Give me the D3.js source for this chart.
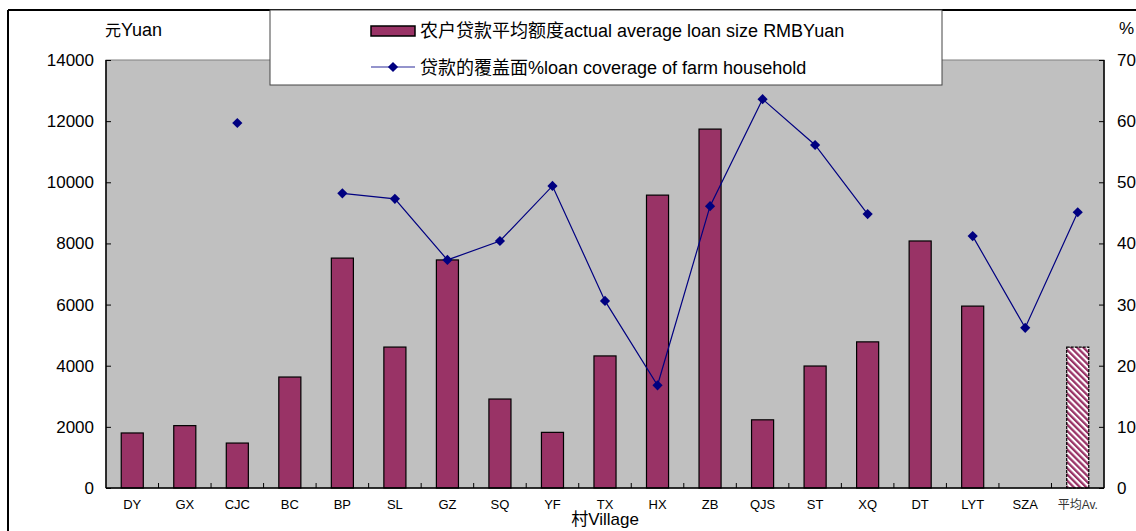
<!DOCTYPE html>
<html><head><meta charset="utf-8">
<script src="https://cdn.jsdelivr.net/npm/d3@7"></script>
<style>body{margin:0;background:#fff;} text{font-family:"Liberation Sans",Arial,"Noto Sans CJK SC",sans-serif;}</style>
</head><body>
<svg id="c" width="1136" height="531"></svg>
<script>
const categories = ["DY","GX","CJC","BC","BP","SL","GZ","SQ","YF","TX","HX","ZB","QJS","ST","XQ","DT","LYT","SZA","平均Av."];
const loanSize = [1800,2040,1470,3630,7520,4610,7460,2910,1820,4320,9580,11740,2230,3990,4780,8080,5950,0,4610];
const coverage = [null,null,59.7,null,48.2,47.3,37.3,40.4,49.4,30.6,16.8,46.1,63.6,56.1,44.8,null,41.2,26.2,45.1];
const leftTicks = [0,2000,4000,6000,8000,10000,12000,14000];
const rightTicks = [0,10,20,30,40,50,60,70];
const legendLabels = ["农户贷款平均额度actual average loan size RMBYuan","贷款的覆盖面%loan coverage of farm household"];

const svg = d3.select("#c");
const L=106,R=1104,T=60,B=488;
const x = d3.scaleBand().domain(categories).range([L,R]).paddingInner(0.58).paddingOuter(0.29);
const yL = d3.scaleLinear().domain([0,14000]).range([B,T]);
const yR = d3.scaleLinear().domain([0,70]).range([B,T]);

const defs = svg.append("defs");
const pat = defs.append("pattern").attr("id","hatch").attr("patternUnits","userSpaceOnUse")
  .attr("width",4.4).attr("height",4.4).attr("patternTransform","rotate(-45)");
pat.append("rect").attr("width",4.4).attr("height",4.4).attr("fill","#fff");
pat.append("rect").attr("width",2.3).attr("height",4.4).attr("fill","#993366");

// outer border
svg.append("line").attr("x1",8).attr("x2",1136).attr("y1",10).attr("y2",10).attr("stroke","#000").attr("stroke-width",2);
svg.append("line").attr("x1",8).attr("x2",8).attr("y1",10).attr("y2",531).attr("stroke","#000").attr("stroke-width",2);

// plot area
svg.append("rect").attr("x",L).attr("y",T).attr("width",R-L).attr("height",B-T).attr("fill","#C0C0C0").attr("stroke","#808080");

// bars
const n = categories.length;
svg.append("g").selectAll("rect").data(categories).join("rect")
  .attr("x",d=>x(d)).attr("width",x.bandwidth())
  .attr("y",(d,i)=>yL(loanSize[i])).attr("height",(d,i)=>B-yL(loanSize[i]))
  .attr("fill",(d,i)=>i===n-1?"url(#hatch)":"#993366")
  .attr("stroke",(d,i)=>loanSize[i]>0?"#000":"none").attr("stroke-width",1.2)
  .attr("stroke-dasharray",(d,i)=>i===n-1?"3,1":null);

// axes
const gl = svg.append("g").attr("transform",`translate(${L},0)`)
  .call(d3.axisLeft(yL).tickValues(leftTicks).tickSize(-5).tickPadding(12).tickFormat(d3.format("d")));
const gr = svg.append("g").attr("transform",`translate(${R},0)`)
  .call(d3.axisRight(yR).tickValues(rightTicks).tickSize(-5).tickPadding(13));
[gl,gr].forEach(g=>{g.select(".domain").attr("stroke","#000").attr("stroke-width",1.5);
  g.selectAll(".tick line").attr("stroke","#000");
  g.selectAll("text").attr("font-size",17).attr("fill","#000").attr("font-family","Liberation Sans, Arial, sans-serif");});
gr.select(".domain").attr("d",`M0,${B}V${T}`);
gl.select(".domain").attr("d",`M0,${B}V${T}`);

const gb = svg.append("g").attr("transform",`translate(0,${B})`)
  .call(d3.axisBottom(x).tickSize(0).tickPadding(12));
gb.select(".domain").attr("d",`M${L},0H${R}`).attr("stroke","#000").attr("stroke-width",1.5);
gb.selectAll("text").attr("font-size",13).attr("fill","#000");
gb.selectAll(".tick").filter(d=>d==="平均Av.").select("text").attr("font-size",12).attr("font-family","Noto Sans CJK SC, sans-serif").attr("fill","#333");
const step = x.step();
svg.append("g").selectAll("line").data(d3.range(1,n)).join("line")
  .attr("x1",i=>L+i*step).attr("x2",i=>L+i*step).attr("y1",B).attr("y2",B-5).attr("stroke","#000");

// line
const pts = categories.map((c,i)=>({c,v:coverage[i]}));
const line = d3.line().defined(d=>d.v!=null).x(d=>x(d.c)+x.bandwidth()/2).y(d=>yR(d.v));
svg.append("path").attr("d",line(pts)).attr("fill","none").attr("stroke","#000080").attr("stroke-width",1.2);
const diamond = d3.symbol(d3.symbolSquare,52);
svg.append("g").selectAll("path").data(pts.filter(d=>d.v!=null)).join("path")
  .attr("d",diamond).attr("fill","#000080")
  .attr("transform",d=>`translate(${x(d.c)+x.bandwidth()/2},${yR(d.v)}) rotate(45)`);

// axis titles
const yt = svg.append("text").attr("x",105).attr("y",36).attr("font-size",18);
yt.append("tspan").attr("font-family","Noto Sans CJK SC, sans-serif").attr("font-size",16).text("元");
yt.append("tspan").attr("font-family","Liberation Sans, Arial, sans-serif").text("Yuan");
svg.append("text").attr("x",1119).attr("y",34).attr("font-size",17).text("%");
const xt = svg.append("text").attr("x",605).attr("y",525).attr("text-anchor","middle").attr("font-size",17);
xt.append("tspan").attr("font-family","Noto Sans CJK SC, sans-serif").text("村");
xt.append("tspan").text("Village");

// legend
const lg = svg.append("g");
lg.append("rect").attr("x",270).attr("y",10).attr("width",672).attr("height",75).attr("fill","#fff").attr("stroke","#444");
lg.append("rect").attr("x",371).attr("y",26).attr("width",44).attr("height",10).attr("fill","#993366").attr("stroke","#000").attr("stroke-width",1.5);
lg.append("line").attr("x1",371).attr("x2",415).attr("y1",67).attr("y2",67).attr("stroke","#2a2a9a").attr("stroke-width",1.2);
lg.append("path").attr("d",diamond).attr("fill","#000080").attr("transform","translate(393,67) rotate(45)");
legendLabels.forEach((t,i)=>{
  const m = t.match(/^([\u4e00-\u9fff]+)(.*)$/);
  const tx = lg.append("text").attr("x",420).attr("y",[37,74][i]).attr("font-size",18);
  tx.append("tspan").attr("font-family","Noto Sans CJK SC, sans-serif").text(m[1]);
  tx.append("tspan").attr("font-family","Liberation Sans, Arial, sans-serif").text(m[2]);
});
</script>
</body></html>
